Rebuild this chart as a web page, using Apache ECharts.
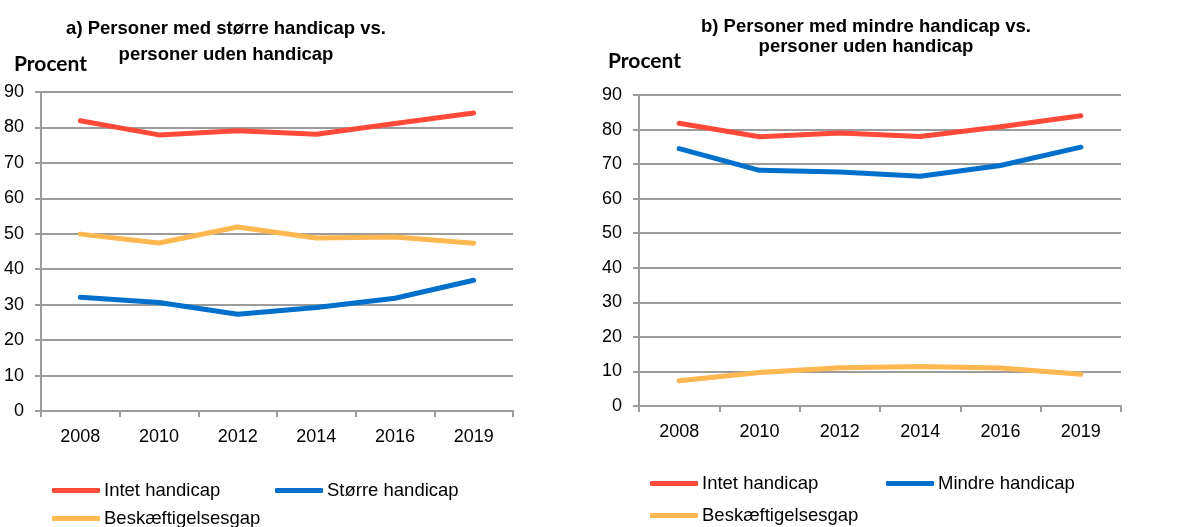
<!DOCTYPE html>
<html>
<head>
<meta charset="utf-8">
<script src="https://cdn.jsdelivr.net/npm/echarts@6/dist/echarts.min.js"></script>
<style>html,body{margin:0;padding:0;background:#fff}#c{width:1193px;height:527px}</style>
</head>
<body>
<div id="c"></div>
<script>
var years = ['2008','2010','2012','2014','2016','2019'];
var yTicks = [0,10,20,30,40,50,60,70,80,90];
// Panel a)
var aIntet = [81.9, 77.9, 79.1, 78.1, 81.1, 84.1];
var aStoerre = [32.1, 30.6, 27.3, 29.2, 31.8, 36.9];
var aGap = [49.9, 47.4, 51.9, 48.8, 49.1, 47.3];
// Panel b)
var bIntet = [81.8, 77.9, 79.0, 78.0, 80.8, 84.0];
var bMindre = [74.5, 68.2, 67.7, 66.5, 69.6, 74.9];
var bGap = [7.3, 9.7, 11.1, 11.4, 11.0, 9.2];

var RED = '#FF4A3A', BLUE = '#0070CC', ORANGE = '#FFB74F', GRID = '#9C9C9C';
var FONT = '"Liberation Sans", Arial, sans-serif';

function xAx(gi){
  return {
    type:'category', gridIndex:gi, data:years, boundaryGap:true,
    axisLine:{show:true, lineStyle:{color:GRID, width:2}},
    axisTick:{show:true, length:6, lineStyle:{color:GRID, width:2}},
    axisLabel:{color:'#000', fontSize:18, fontFamily:FONT, margin:17},
    splitLine:{show:false}
  };
}
function yAx(gi){
  return {
    type:'value', gridIndex:gi, min:0, max:90, interval:10,
    axisLine:{show:true, lineStyle:{color:GRID, width:2}},
    axisTick:{show:true, length:6, lineStyle:{color:GRID, width:2}},
    axisLabel:{color:'#000', fontSize:18, fontFamily:FONT, margin:17,
      formatter:function(v){return yTicks.indexOf(v)>=0 ? String(v) : '';}},
    splitLine:{show:true, lineStyle:{color:GRID, width:2}}
  };
}
function ser(name, data, color, gi){
  return {type:'line', name:name, data:data, xAxisIndex:gi, yAxisIndex:gi,
    symbol:'none', lineStyle:{color:color, width:5, cap:'round', join:'round'},
    itemStyle:{color:color}, silent:true, animation:false};
}
function leg(name, left, top){
  return {data:[name], left:left, top:top, orient:'horizontal', icon:'roundRect',
    itemWidth:48, itemHeight:5, itemGap:4, padding:0,
    textStyle:{color:'#000', fontSize:18.5, fontFamily:FONT, padding:[0,0,0,-1]},
    selectedMode:false};
}

var chart = echarts.init(document.getElementById('c'), null, {renderer:'canvas'});
chart.setOption({
  animation:false,
  backgroundColor:'#fff',
  title:[
    {text:'a) Personer med større handicap vs.\npersoner uden handicap', left:226, top:16, textAlign:'center', padding:0,
      textStyle:{fontSize:18.5, fontWeight:'bold', fontFamily:FONT, color:'#000', lineHeight:26}},
    {text:'b) Personer med mindre handicap vs.\npersoner uden handicap', left:866, top:17, textAlign:'center', padding:0,
      textStyle:{fontSize:18.5, fontWeight:'bold', fontFamily:FONT, color:'#000', lineHeight:20}},
    {text:'Procent', left:14, top:54, padding:0,
      textStyle:{fontSize:21, fontWeight:'bold', fontFamily:'Lato, sans-serif', color:'#000'}},
    {text:'Procent', left:608, top:51, padding:0,
      textStyle:{fontSize:21, fontWeight:'bold', fontFamily:'Lato, sans-serif', color:'#000'}}
  ],
  grid:[
    {left:41, top:92, width:472, height:319, containLabel:false},
    {left:639, top:95, width:482, height:311, containLabel:false}
  ],
  xAxis:[xAx(0), xAx(1)],
  yAxis:[yAx(0), yAx(1)],
  legend:[
    leg('Intet handicap', 52, 481),
    leg('Større handicap', 275, 481),
    leg('Beskæftigelsesgap', 52, 509),
    leg('Intet handicap', 650, 474),
    leg('Mindre handicap', 886, 474),
    leg('Beskæftigelsesgap', 650, 506)
  ],
  series:[
    ser('Intet handicap', aIntet, RED, 0),
    ser('Større handicap', aStoerre, BLUE, 0),
    ser('Beskæftigelsesgap', aGap, ORANGE, 0),
    ser('Intet handicap', bIntet, RED, 1),
    ser('Mindre handicap', bMindre, BLUE, 1),
    ser('Beskæftigelsesgap', bGap, ORANGE, 1)
  ]
});
</script>
</body>
</html>
